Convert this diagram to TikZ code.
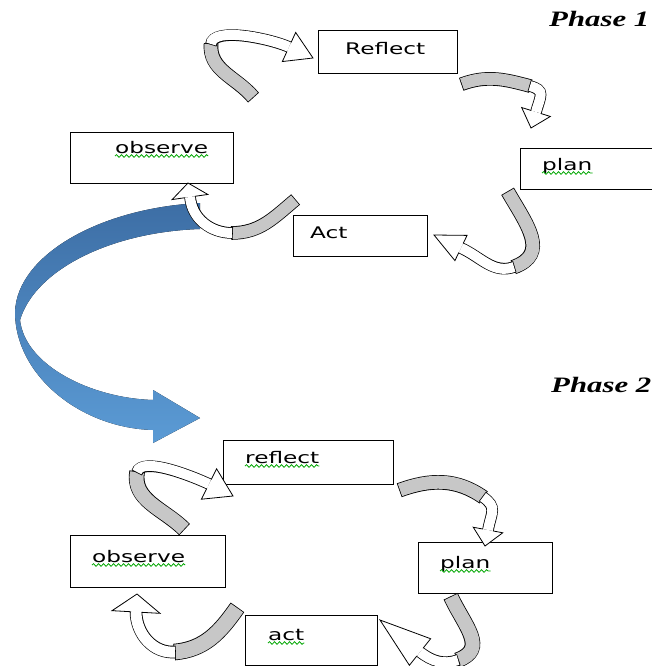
\documentclass[tikz,border=0pt]{standalone}
\usepackage{fontspec}
\newfontfamily\boxfont{DejaVu Sans}[FakeStretch=1.45]
\newfontfamily\phasefont{Liberation Serif}[FakeStretch=1.4]
\usetikzlibrary{calc,decorations.pathmorphing}
\definecolor{blueTop}{HTML}{3D6EA5}
\definecolor{blueBot}{HTML}{5B9BD5}

% white arrow head: base centre, tip, half band, half base
\newcommand{\blockhead}[4]{%
  \filldraw[fill=white,draw=black,line width=0.8pt,line join=miter]
    ($(#1)!#3!90:(#2)$) -- ($(#1)!#4!90:(#2)$) -- (#2)
    -- ($(#1)!#4!-90:(#2)$) -- ($(#1)!#3!-90:(#2)$);}

\begin{document}
\begin{tikzpicture}[x=1pt,y=1pt,
    box/.style={draw,line width=1.1pt,anchor=north west,inner sep=0pt},
    word/.style={font=\boxfont\fontsize{16}{18}\selectfont,inner sep=0pt,anchor=base west},
    phase/.style={font=\phasefont\bfseries\itshape\fontsize{22}{24}\selectfont,inner sep=0pt,anchor=base west},
    squiggle/.style={draw=green!65!black,line width=0.8pt,decorate,
        decoration={snake,amplitude=1.3pt,segment length=5pt}},
    gband/.style={line width=#1,draw=black!22,
        preaction={draw=black,line width=#1+1.6pt,shorten <=-0.8pt,shorten >=-0.8pt}},
    wband/.style={line width=#1,draw=white,
        preaction={draw=black,line width=#1+1.6pt,shorten <=-0.8pt,shorten >=-0.8pt}}]
\useasboundingbox (0,0) rectangle (652,-666);
\clip (0,0) rectangle (652,-666);

% phase 1
\node[box,minimum width=139pt,minimum height=43pt] (b1refl) at (318,-30) {};
\node[box,minimum width=163pt,minimum height=51pt] (b1obs) at (70,-132) {};
\node[box,minimum width=150pt,minimum height=41pt] (b1plan) at (520,-148) {};
\node[box,minimum width=134pt,minimum height=41pt] (b1act) at (293,-215) {};

% phase 2
\node[box,minimum width=170pt,minimum height=44pt] (b2refl) at (223,-440) {};
\node[box,minimum width=155pt,minimum height=52pt] (b2obs) at (70,-535) {};
\node[box,minimum width=134pt,minimum height=51pt] (b2plan) at (418,-542) {};
\node[box,minimum width=132pt,minimum height=50pt] (b2act) at (245,-615) {};

% big arrow from phase 1 to phase 2
\fill[top color=blueTop,bottom color=blueBot]
  (200,-203) .. controls (100,-208) and (17,-255) .. (15,-312)
  .. controls (15,-375) and (80,-428) .. (153,-430)
  -- (153,-443) -- (200,-418) -- (153,-390) -- (153,-400)
  .. controls (90,-398) and (25,-365) .. (20,-320)
  .. controls (35,-270) and (110,-232) .. (200,-229) -- cycle;

% phase 1 cycle
\draw[gband=13pt] (253,-97) to[out=130,in=-95] (211,-44);
\draw[wband=10pt] (211,-44) to[out=85,in=155,looseness=0.6] (289,-47);
\blockhead{289,-47}{313,-58}{5pt}{16pt}

\draw[gband=12pt] (462,-84) to[out=20,in=165] (530,-86);
\draw[wband=10pt] (530,-86) to[out=-15,in=75,looseness=1.6] (536,-112);
\blockhead{536,-112}{531,-128}{5pt}{15pt}

\draw[gband=13pt] (508,-192) to[out=-60,in=20,looseness=1.3] (514,-267);
\draw[wband=10pt] (514,-267) to[out=200,in=-24] (461,-248);
\blockhead{461,-248}{434,-235}{5pt}{14pt}

\draw[gband=12pt] (295,-200) to[out=220,in=0] (232,-233);
\draw[wband=10pt] (232,-233) to[out=180,in=-85] (190,-197);
\blockhead{190,-197}{188,-183}{5pt}{18pt}

% phase 2 cycle
\draw[gband=14pt] (184,-529) to[out=135,in=-100] (137,-472);
\draw[wband=10pt] (137,-472) to[out=75,in=155,looseness=0.6] (209,-484);
\blockhead{209,-484}{233,-496}{5pt}{17pt}

\draw[gband=13pt] (400,-490) to[out=20,in=145] (483,-497);
\draw[wband=10pt] (483,-497) to[out=-35,in=80,looseness=1.4] (488,-530);
\blockhead{488,-530}{485,-546}{5pt}{15pt}

\draw[gband=14pt] (451,-597) to[out=-65,in=20,looseness=1.3] (458,-660);
\draw[wband=10pt] (458,-660) to[out=200,in=-38] (420,-652);
\blockhead{420,-652}{380,-620}{5pt}{17pt}

\draw[gband=15pt] (237,-608) to[out=235,in=5] (175,-652);
\draw[wband=11pt] (175,-652) to[out=185,in=-90] (136,-612);
\blockhead{136,-612}{137,-594}{5.5pt}{24pt}

% labels
\node[word] (w1refl) at (345,-55) {Reflect};
\node[word] (w1obs) at (115,-153) {observe};
\node[word] (w1plan) at (542,-170) {plan};
\node[word] (w1act) at (310,-238) {Act};
\node[word] (w2refl) at (245,-463) {reflect};
\node[word] (w2obs) at (92,-562) {observe};
\node[word] (w2plan) at (440,-568) {plan};
\node[word] (w2act) at (268,-640) {act};
\foreach \w in {w1obs,w1plan,w2refl,w2obs,w2plan,w2act}
  \draw[squiggle] ([yshift=-3pt]\w.base west) -- ([yshift=-3pt]\w.base east);

\node[phase] (ph1) at (549,-27) {Phase 1};
\node[phase] (ph2) at (551,-392) {Phase 2};
\end{tikzpicture}
\end{document}
